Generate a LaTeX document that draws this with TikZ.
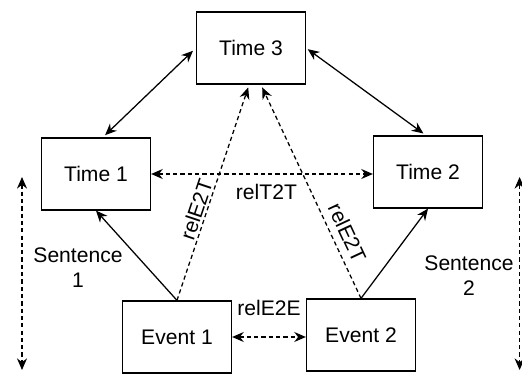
\documentclass[tikz,border=0pt]{standalone}
\usepackage{fontspec}
\setmainfont{Liberation Sans}
\usetikzlibrary{arrows.meta}

\tikzset{
  box/.style={draw, line width=0.9pt, minimum width=2.725cm, minimum height=1.8cm, font=\fontsize{15}{17.8}\selectfont},
  lbl/.style={font=\fontsize{15}{17.8}\selectfont},
  link/.style={line width=0.9pt, >={Stealth[length=2.9mm,width=2.5mm]}},
  rel/.style={link, dash pattern=on 3pt off 2.2pt},
}

\begin{document}
\begin{tikzpicture}
    \useasboundingbox (0,0) rectangle (13.05,9.35);

    %% Time boxes
    \node[box] (t3) at (6.275,8.15) {Time 3};
    \node[box] (t1) at (2.4,5.0) {Time 1};
    \node[box] (t2) at (10.7,5.05) {Time 2};

    %% Event boxes
    \node[box] (e1) at (4.425,0.925) {Event 1};
    \node[box] (e2) at (9.025,0.975) {Event 2};

    %% Time to time (solid)
    \draw[link,<->, shorten <=0.1cm, shorten >=0.08cm] (t3.west) -- ([xshift=0.17cm]t1.north);
    \draw[link,<->, shorten <=0.05cm, shorten >=0.08cm] (t3.east) -- ([xshift=-0.05cm]t2.north);

    %% Event to its time (solid)
    \draw[link,->] (e1.north) -- (t1.south);
    \draw[link,->] (e2.north) -- (t2.south);

    %% Event to time 3 (dashed)
    \draw[rel,->] (e1.north) -- ([xshift=-0.07cm,yshift=-0.07cm]t3.south)
        node[lbl, sloped, above, pos=0.41, inner sep=1.5pt] {relE2T};
    \draw[rel,->] (e2.north) -- ([xshift=0.28cm,yshift=-0.07cm]t3.south)
        node[lbl, sloped, above, pos=0.28, inner sep=5pt] {relE2T};

    %% Time 1 and time 2, event 1 and event 2
    \draw[rel,<->] (t1.east) -- (t1.east -| t2.west)
        node[lbl, below, pos=0.52, inner sep=7pt] {relT2T};
    \draw[rel,<->] (e1.east) -- (e1.east -| e2.west)
        node[lbl, above, midway, inner sep=15pt] {relE2E};

    %% Sentences
    \coordinate (s1top) at (0.55,4.925);
    \coordinate (s1bot) at (0.55,0.1);
    \coordinate (s2top) at (12.99,4.925);
    \coordinate (s2bot) at (12.99,0.1);
    \draw[rel,<->] (s1top) -- (s1bot);
    \draw[rel,<->] (s2top) -- (s2bot);
    \node[lbl, align=center] (sen1) at (1.95,2.66) {Sentence\\1};
    \node[lbl, align=center] (sen2) at (11.725,2.46) {Sentence\\2};

\end{tikzpicture}
\end{document}
